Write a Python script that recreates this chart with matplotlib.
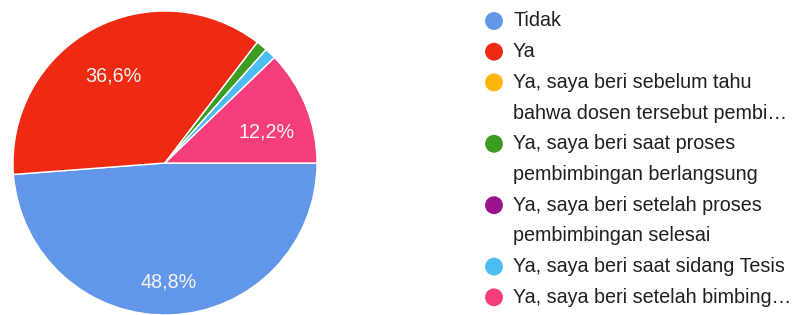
import matplotlib
matplotlib.use("Agg")
import matplotlib.pyplot as plt

# ---- data ----
labels = [
    "Tidak",
    "Ya",
    "Ya, saya beri sebelum tahu\nbahwa dosen tersebut pembi…",
    "Ya, saya beri saat proses\npembimbingan berlangsung",
    "Ya, saya beri setelah proses\npembimbingan selesai",
    "Ya, saya beri saat sidang Tesis",
    "Ya, saya beri setelah bimbing…",
]
values = [48.8, 36.6, 0.0, 1.2, 0.0, 1.2, 12.2]
colors = ["#6296e8", "#ee2b12", "#fdb50a", "#3d9c22", "#9c118c", "#4dbcf2", "#f33d7c"]

plt.rcParams['font.family'] = ['Liberation Sans', 'DejaVu Sans']

W, H = 801, 315
fig = plt.figure(figsize=(W / 100, H / 100), dpi=100)
fig.patch.set_facecolor("white")

# pie axes: centre (165,163) px, radius 152 px
cx, cy, r = 165, 163, 152
ax = fig.add_axes([(cx - r) / W, (H - cy - r) / H, 2 * r / W, 2 * r / H])


def fmt(p):
    return ("%.1f%%" % p).replace(".", ",") if p >= 5 else ""


wedges, texts, autotexts = ax.pie(
    values, colors=colors, startangle=0, counterclock=False,
    autopct=fmt, pctdistance=0.72,
    wedgeprops=dict(edgecolor="white", linewidth=1.0),
    textprops=dict(color="#f4f4f4", fontsize=14.2),
)
for t in autotexts:
    t.set_va("top")
ax.set_xlim(-1.0, 1.0)
ax.set_ylim(-1.0, 1.0)
ax.set_aspect("auto")
ax.axis("off")

# legend drawn in a pixel-coordinate overlay
lax = fig.add_axes([0, 0, 1, 1])
lax.set_xlim(0, W)
lax.set_ylim(H, 0)
lax.axis("off")
lax.patch.set_alpha(0)

x_marker, x_text = 494, 513
y = 21.0
line_step = 30.7
for lab, col in zip(labels, colors):
    lax.scatter([x_marker], [y], s=165, color=col, edgecolors="none")
    for i, line in enumerate(lab.split("\n")):
        lax.text(x_text, y + i * line_step, line, fontsize=14.2, color="#202020",
                 va="center", ha="left")
    y += line_step * len(lab.split("\n"))

fig.savefig("out.png", dpi=100, facecolor="white")
